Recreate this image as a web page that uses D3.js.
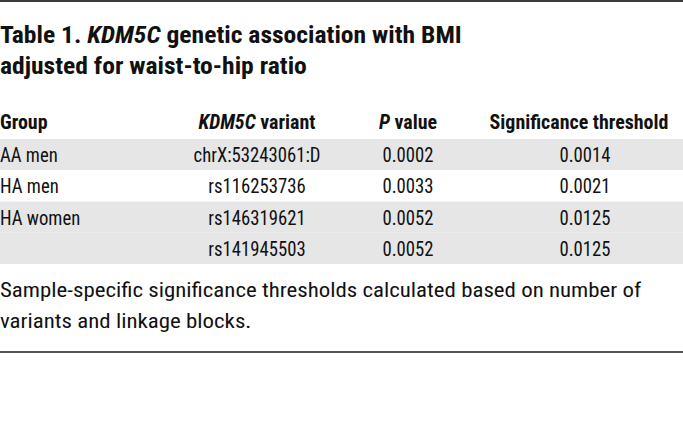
<!DOCTYPE html>
<html>
<head>
<meta charset="utf-8">
<script src="https://cdn.jsdelivr.net/npm/d3@7"></script>
<style>
	body { margin: 0; background: #fff; }
	svg text { font-family: 'Roboto Condensed', 'DejaVu Sans Condensed', 'DejaVu Sans', sans-serif; font-stretch: condensed; fill: #111; }
</style>
</head>
<body>
<script>
var groups = ['AA men', 'HA men', 'HA women', '']
var variants = ['chrX:53243061:D', 'rs116253736', 'rs146319621', 'rs141945503']
var pValues = ['0.0002', '0.0033', '0.0052', '0.0052']
var thresholds = ['0.0014', '0.0021', '0.0125', '0.0125']
var shaded = [true, false, true, true]
var headers = [
	[{t: 'Group'}],
	[{t: 'KDM5C', i: true}, {t: ' variant'}],
	[{t: 'P', i: true}, {t: ' value'}],
	[{t: 'Significance threshold'}]
]
var footnote = ['Sample-specific significance thresholds calculated based on number of', 'variants and linkage blocks.']

var W = 683, H = 424

var svg = d3.select('body').append('svg')
	.attr('width', W)
	.attr('height', H)

// squeeze a set of texts horizontally so one sample text gets the wanted width
function fit(sel, sample, want){
	var k = want / sample.node().getBBox().width
	sel.each(function(){
		var t = d3.select(this)
		var x = +t.attr('x')
		t.attr('transform', 'translate(' + (x * (1 - k)) + ',0) scale(' + k + ',1)')
	})
}

// top and bottom rules
svg.append('rect').attr('x', 0).attr('y', 0).attr('width', W).attr('height', 2).style('fill', '#3a3a3a')
svg.append('rect').attr('x', 0).attr('y', 351).attr('width', W).attr('height', 2).style('fill', '#555')

// title
var title1 = svg.append('text')
	.attr('class', 'title')
	.attr('x', 0)
	.attr('y', 43)
	.style('font-size', '23px')
	.style('font-weight', 'bold')
title1.append('tspan').text('Table 1. ')
title1.append('tspan').style('font-style', 'italic').text('KDM5C')
title1.append('tspan').text(' genetic association with BMI')
svg.append('text')
	.attr('class', 'title')
	.attr('x', 0)
	.attr('y', 74)
	.style('font-size', '23px')
	.style('font-weight', 'bold')
	.text('adjusted for waist-to-hip ratio')
fit(svg.selectAll('.title'), title1, 462)

var y = d3.scaleBand().domain(d3.range(variants.length)).range([139, 264])

var headX = [0, 257, 408, 579]
var anchor = ['start', 'middle', 'middle', 'middle']
var cellX = [0, 257, 408, 585]

var heads = svg.selectAll('.head').data(headers).enter().append('text')
	.attr('class', 'head')
	.attr('x', function(d, i){ return headX[i] })
	.attr('y', 129)
	.attr('text-anchor', function(d, i){ return anchor[i] })
	.style('font-size', '21px')
	.style('font-weight', 'bold')
	.each(function(d){
		var t = d3.select(this)
		d.forEach(function(p){
			t.append('tspan').style('font-style', p.i ? 'italic' : 'normal').text(p.t)
		})
	})
fit(heads, heads.filter(function(d, i){ return i == 3 }), 179)

svg.selectAll('.band').data(shaded).enter().append('rect')
	.attr('class', 'band')
	.attr('x', 0)
	.attr('y', function(d, i){ return y(i) })
	.attr('width', W)
	.attr('height', y.bandwidth())
	.style('fill', function(d){ return d ? '#e6e6e6' : '#fff' })

var cols = [groups, variants, pValues, thresholds]
cols.forEach(function(col, c){
	svg.selectAll('.c' + c).data(col).enter().append('text')
		.attr('class', 'cell c' + c)
		.attr('x', cellX[c])
		.attr('y', function(d, i){ return y(i) + y.bandwidth() / 2 + 7.5 })
		.attr('text-anchor', anchor[c])
		.style('font-size', '21px')
		.text(function(d){ return d })
})
fit(svg.selectAll('.cell'), svg.select('.c1'), 127)

var foot = svg.selectAll('.foot').data(footnote).enter().append('text')
	.attr('class', 'foot')
	.attr('x', 0)
	.attr('y', function(d, i){ return 297 + i * 31 })
	.style('font-size', '21px')
	.text(function(d){ return d })
fit(foot, foot.filter(function(d, i){ return i == 0 }), 642)
</script>
</body>
</html>
